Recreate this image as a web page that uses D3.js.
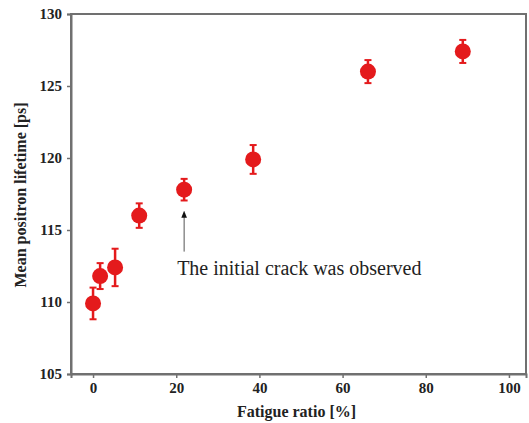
<!DOCTYPE html>
<html>
<head>
<meta charset="utf-8">
<script src="https://cdn.jsdelivr.net/npm/d3@7"></script>
<style>
  body { margin: 0; background: #fff; }
</style>
</head>
<body>
<div id="chart"></div>
<script>
// data
var fatigue  = [0, 1.7, 5.3, 11.1, 21.9, 38.5, 66.1, 88.9];
var lifetime = [109.9, 111.8, 112.4, 116.0, 117.8, 119.9, 126.0, 127.4];
var errors   = [1.1, 0.9, 1.3, 0.85, 0.75, 1.0, 0.8, 0.8];
var xTicks = [0, 20, 40, 60, 80, 100];
var yTicks = [105, 110, 115, 120, 125, 130];

var serif = "'Liberation Serif', 'Times New Roman', 'DejaVu Serif', serif";

var margin = {top: 14, right: 3, bottom: 49, left: 71},
  width = 529 - margin.left - margin.right,
  height = 423 - margin.top - margin.bottom;

var data = fatigue.map(function(f, i) {
  return {x: f, y: lifetime[i], e: errors[i]};
});

var svg = d3.select("#chart")
  .append("svg")
  .attr("width", width + margin.left + margin.right)
  .attr("height", height + margin.top + margin.bottom)
  .append("g")
  .attr("transform", "translate(" + margin.left + "," + margin.top + ")");

var x = d3.scaleLinear()
  .domain([-5.3, 104.1])
  .range([0, width]);

var y = d3.scaleLinear()
  .domain([105, 130])
  .range([height, 0]);

var axisColor = "#707070";

// frame
svg.append("rect")
  .attr("width", width)
  .attr("height", height)
  .attr("fill", "none")
  .attr("stroke", axisColor)
  .attr("stroke-width", 2);

var xAxis = svg.append("g")
  .attr("transform", "translate(0," + height + ")")
  .call(d3.axisBottom(x).tickValues(xTicks).tickSize(4).tickPadding(4));

var yAxis = svg.append("g")
  .call(d3.axisLeft(y).tickValues(yTicks).tickSize(4).tickPadding(5));

[xAxis, yAxis].forEach(function(a) {
  a.attr("font-family", serif).attr("font-size", 15).attr("font-weight", "bold");
  a.select(".domain").attr("stroke", axisColor).attr("stroke-width", 2);
  a.selectAll(".tick line").attr("stroke", axisColor).attr("stroke-width", 1.5);
  a.selectAll(".tick text").attr("fill", "#222");
});

// axis labels
svg.append("text")
  .attr("x", width / 2 - 2)
  .attr("y", height + 43)
  .attr("text-anchor", "middle")
  .attr("font-family", serif)
  .attr("font-weight", "bold")
  .attr("font-size", 16)
  .attr("fill", "#222")
  .text("Fatigue ratio [%]");

svg.append("text")
  .attr("transform", "rotate(-90)")
  .attr("x", -(height / 2) - 1)
  .attr("y", -45)
  .attr("text-anchor", "middle")
  .attr("font-family", serif)
  .attr("font-weight", "bold")
  .attr("font-size", 16)
  .attr("fill", "#222")
  .text("Mean positron lifetime [ps]");

// error bars
var red = "#e41a1c";
var bars = svg.selectAll(".err")
  .data(data)
  .join("g")
  .attr("class", "err");

bars.append("line")
  .attr("x1", function(d) { return x(d.x); })
  .attr("x2", function(d) { return x(d.x); })
  .attr("y1", function(d) { return y(d.y - d.e); })
  .attr("y2", function(d) { return y(d.y + d.e); })
  .attr("stroke", red)
  .attr("stroke-width", 2.5);

[-1, 1].forEach(function(s) {
  bars.append("line")
    .attr("x1", function(d) { return x(d.x) - 3.5; })
    .attr("x2", function(d) { return x(d.x) + 3.5; })
    .attr("y1", function(d) { return y(d.y + s * d.e); })
    .attr("y2", function(d) { return y(d.y + s * d.e); })
    .attr("stroke", red)
    .attr("stroke-width", 2);
});

svg.selectAll(".dot")
  .data(data)
  .join("circle")
  .attr("class", "dot")
  .attr("cx", function(d) { return x(d.x); })
  .attr("cy", function(d) { return y(d.y); })
  .attr("r", 8)
  .attr("fill", red);

// annotation arrow
var ann = data[4];
svg.append("defs").append("marker")
  .attr("id", "head")
  .attr("viewBox", "0 0 10 10")
  .attr("refX", 5).attr("refY", 5)
  .attr("markerWidth", 7).attr("markerHeight", 7)
  .attr("orient", "auto")
  .append("path")
  .attr("d", "M0,1 L10,5 L0,9 Z")
  .attr("fill", "#111");

svg.append("line")
  .attr("x1", x(ann.x))
  .attr("x2", x(ann.x))
  .attr("y1", y(113.5))
  .attr("y2", y(116.1))
  .attr("stroke", "#555")
  .attr("stroke-width", 1)
  .attr("marker-end", "url(#head)");

svg.append("text")
  .attr("x", x(ann.x) - 7)
  .attr("y", y(111.85))
  .attr("font-family", serif)
  .attr("font-size", 20)
  .attr("fill", "#222")
  .text("The initial crack was observed");
</script>
</body>
</html>
